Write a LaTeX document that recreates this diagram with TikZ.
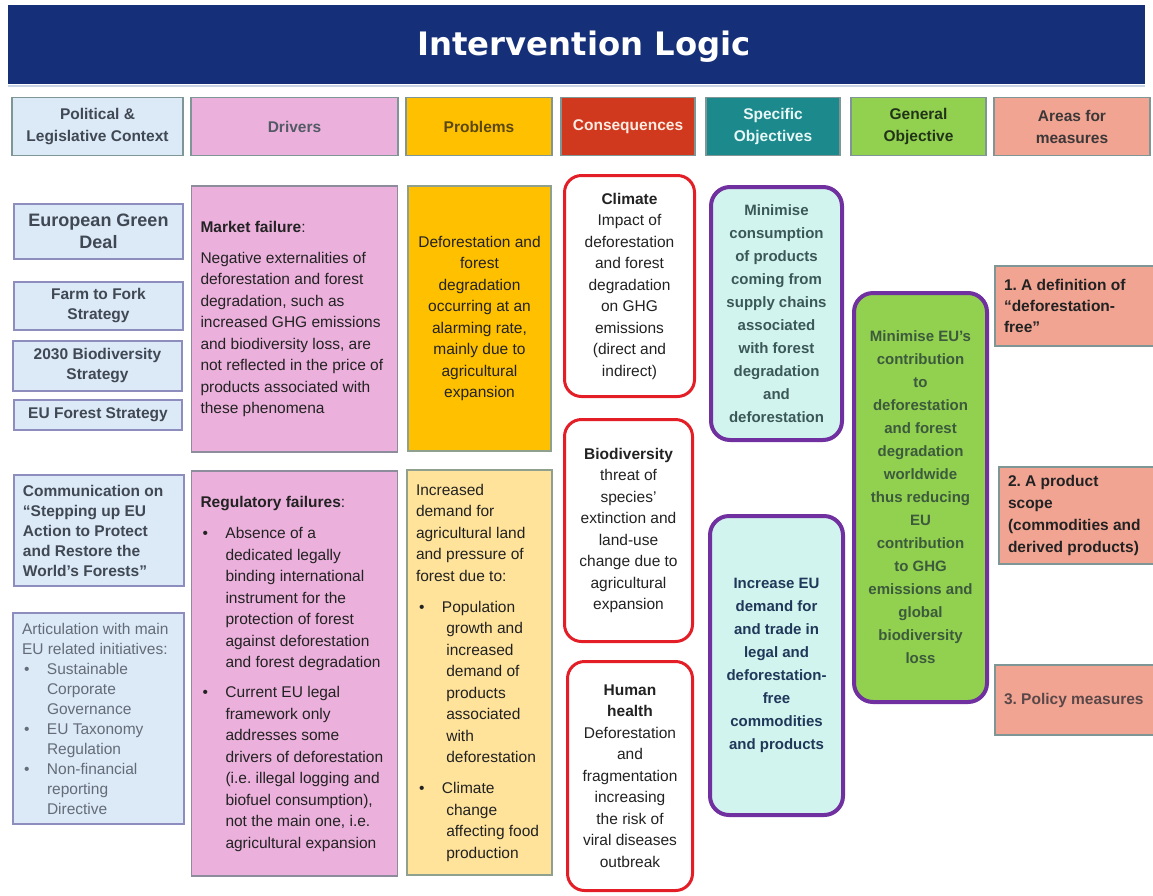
\documentclass[tikz,border=0pt]{standalone}
\usepackage{fontspec}
\setmainfont{Liberation Sans}
\newfontfamily\titlefont{DejaVu Sans}
\frenchspacing
\definecolor{navy}{RGB}{21,48,120}
\definecolor{barline}{RGB}{200,212,228}
\definecolor{hdrline}{RGB}{127,150,150}
\definecolor{polfill}{RGB}{220,233,247}
\definecolor{polline}{RGB}{142,142,190}
\definecolor{pinkfill}{RGB}{235,177,220}
\definecolor{pinkline}{RGB}{140,140,156}
\definecolor{orangefill}{RGB}{255,192,0}
\definecolor{yellowfill}{RGB}{255,227,154}
\definecolor{yline}{RGB}{143,160,143}
\definecolor{consfill}{RGB}{208,57,30}
\definecolor{tealfill}{RGB}{28,138,140}
\definecolor{greenfill}{RGB}{146,208,80}
\definecolor{salmon}{RGB}{242,164,147}
\definecolor{mint}{RGB}{210,244,238}
\definecolor{purp}{RGB}{112,48,160}
\definecolor{redline}{RGB}{228,30,38}
\definecolor{dtext}{RGB}{64,72,84}
\definecolor{ltext}{RGB}{100,108,120}
\definecolor{btext}{RGB}{34,34,34}
\definecolor{s1text}{RGB}{59,88,88}
\definecolor{s2text}{RGB}{31,56,90}
\definecolor{gtext}{RGB}{60,90,60}
\newcommand{\myfs}{\fontsize{15.5}{21.5}\selectfont}
\newcommand{\hdfs}{\fontsize{15.5}{22}\selectfont}
\newcommand{\lcfs}{\fontsize{15.5}{20}\selectfont}
\newcommand{\obfs}{\fontsize{15}{23}\selectfont}
\newcommand{\bul}{\hspace*{2pt}\makebox[23pt][l]{•}}
\newcommand{\ind}{\hspace*{25pt}}
\begin{document}
\begin{tikzpicture}[x=1pt,y=-1pt,
  every node/.style={inner sep=0pt, outer sep=0pt},
  hdr/.style={draw=hdrline, line width=1.2pt, minimum height=58, align=center, font=\bfseries\hdfs},
  polbox/.style={draw=polline, fill=polfill, line width=1.2pt, align=center, font=\bfseries\lcfs, text=dtext},
  drvbox/.style={draw=pinkline, fill=pinkfill, line width=1.2pt, minimum width=206},
  probbox/.style={draw=yline, line width=1.2pt, align=center, font=\myfs, text=btext},
  consbox/.style={draw=redline, fill=white, line width=3pt, rounded corners=17pt, align=center, font=\myfs, text=btext},
  objbox/.style={draw=purp, line width=4pt, rounded corners=19pt, align=center, font=\bfseries\obfs},
  areabox/.style={draw=hdrline, fill=salmon, line width=1.2pt},
  txtl/.style={align=left, anchor=west, font=\myfs, text=btext}
]
\useasboundingbox (0,0) rectangle (1153,895);
% title
\node[fill=navy, minimum width=1137, minimum height=79] (bar) at (576.5,44.5) {};
\draw[barline, line width=2pt] ([yshift=-1.5]bar.south west) -- ([yshift=-1.5]bar.south east);
\node[font=\titlefont\bfseries\fontsize{32.3}{36}\selectfont, text=white] (ttl) at (584,47) {Intervention Logic};
% headers
\node[hdr, fill=polfill, minimum width=171, text=dtext] (hpol) at (97.5,126.5) {Political \&\\Legislative Context};
\node[hdr, fill=pinkfill, minimum width=207, text=dtext!90] (hdrv) at (294.5,126.5) {Drivers};
\node[hdr, fill=orangefill, minimum width=146, text={rgb,255:red,90;green,72;blue,16}] (hprob) at (479,126.5) {Problems};
\node[hdr, fill=consfill, minimum width=134, text={rgb,255:red,252;green,236;blue,226}] (hcons) at (628,126.5) {Consequences};
\node[hdr, fill=tealfill, minimum width=134, text={rgb,255:red,232;green,246;blue,246}] (hspec) at (773,126.5) {Specific\\Objectives};
\node[hdr, fill=greenfill, minimum width=135, text={rgb,255:red,34;green,52;blue,24}] (hgen) at (918.5,126.5) {General\\Objective};
\node[hdr, fill=salmon, minimum width=156, text={rgb,255:red,60;green,56;blue,56}] (hareas) at (1072,126.5) {Areas for\\measures};
% political column
\node[polbox, minimum width=169, minimum height=55, font=\bfseries\fontsize{18}{22}\selectfont] (egd) at (98.5,231.5) {European Green\\Deal};
\node[polbox, minimum width=169, minimum height=48] (f2f) at (98.5,306) {Farm to Fork\\Strategy};
\node[polbox, minimum width=169, minimum height=50] (bds) at (97.5,366) {2030 Biodiversity\\Strategy};
\node[polbox, minimum width=168, minimum height=30] (efs) at (98,415) {EU Forest Strategy};
\node[polbox, minimum width=170, minimum height=111] (comm) at (99,530.5) {};
\node[txtl, font=\bfseries\lcfs, text=dtext] (commt) at ([xshift=9]comm.west) {Communication on\\“Stepping up EU\\Action to Protect\\and Restore the\\World’s Forests”};
\node[polbox, minimum width=171, minimum height=211] (artic) at (98.5,718.5) {};
\node[txtl, font=\lcfs, text=ltext] (artict) at ([xshift=9]artic.west) {Articulation with main\\EU related initiatives:\\\bul Sustainable\\\ind Corporate\\\ind Governance\\\bul EU Taxonomy\\\ind Regulation\\\bul Non-financial\\\ind reporting\\\ind Directive};
% drivers
\node[drvbox, minimum height=266] (mf) at (294.5,319) {};
\node[txtl] (mft) at ([xshift=9]mf.west) {\textbf{Market failure}:\\[9pt]Negative externalities of\\deforestation and forest\\degradation, such as\\increased GHG emissions\\and biodiversity loss, are\\not reflected in the price of\\products associated with\\these phenomena};
\node[drvbox, minimum height=405] (rf) at (294.5,673.5) {};
\node[txtl] (rft) at ([xshift=9]rf.west) {\textbf{Regulatory failures}:\\[10pt]\bul Absence of a\\\ind dedicated legally\\\ind binding international\\\ind instrument for the\\\ind protection of forest\\\ind against deforestation\\\ind and forest degradation\\[8.5pt]\bul Current EU legal\\\ind framework only\\\ind addresses some\\\ind drivers of deforestation\\\ind (i.e. illegal logging and\\\ind biofuel consumption),\\\ind not the main one, i.e.\\\ind agricultural expansion};
% problems
\node[probbox, fill=orangefill, minimum width=143, minimum height=265] (p1) at (479.5,318.5) {Deforestation and\\forest\\degradation\\occurring at an\\alarming rate,\\mainly due to\\agricultural\\expansion};
\node[probbox, fill=yellowfill, minimum width=145, minimum height=405] (p2) at (479.5,672.5) {};
\node[txtl] (p2t) at ([xshift=9]p2.west) {Increased\\demand for\\agricultural land\\and pressure of\\forest due to:\\[9.5pt]\hspace*{1pt}\bul Population\\\ind\hspace*{1pt} growth and\\\ind\hspace*{1pt} increased\\\ind\hspace*{1pt} demand of\\\ind\hspace*{1pt} products\\\ind\hspace*{1pt} associated\\\ind\hspace*{1pt} with\\\ind\hspace*{1pt} deforestation\\[9.5pt]\hspace*{1pt}\bul Climate\\\ind\hspace*{1pt} change\\\ind\hspace*{1pt} affecting food\\\ind\hspace*{1pt} production};
% consequences
\node[consbox, minimum width=130, minimum height=221] (c1) at (629.5,286) {\textbf{Climate}\\Impact of\\deforestation\\and forest\\degradation\\on GHG\\emissions\\(direct and\\indirect)};
\node[consbox, minimum width=128, minimum height=222] (c2) at (628.5,530.5) {\textbf{Biodiversity}\\threat of\\species’\\extinction and\\land-use\\change due to\\agricultural\\expansion};
\node[consbox, minimum width=125, minimum height=229] (c3) at (630,776) {\textbf{Human}\\\textbf{health}\\Deforestation\\and\\fragmentation\\increasing\\the risk of\\viral diseases\\outbreak};
% specific objectives
\node[objbox, fill=mint, minimum width=131, minimum height=253, text=s1text] (s1) at (776.5,313.5) {Minimise\\consumption\\of products\\coming from\\supply chains\\associated\\with forest\\degradation\\and\\deforestation};
\node[objbox, fill=mint, minimum width=133, minimum height=299, text=s2text] (s2) at (776.5,665.5) {Increase EU\\demand for\\and trade in\\legal and\\deforestation-\\free\\commodities\\and products};
% general objective
\node[objbox, fill=greenfill, minimum width=133, minimum height=409, text=gtext] (g) at (920.5,497.5) {Minimise EU’s\\contribution\\to\\deforestation\\and forest\\degradation\\worldwide\\thus reducing\\EU\\contribution\\to GHG\\emissions and\\global\\biodiversity\\loss};
% areas for measures
\node[areabox, minimum width=166, minimum height=80] (a1) at (1078,306) {};
\node[txtl, font=\bfseries\fontsize{15.5}{21}\selectfont, text=btext] (a1t) at ([xshift=9]a1.west) {1. A definition of\\“deforestation-\\free”};
\node[areabox, minimum width=162, minimum height=97] (a2) at (1080,515.5) {};
\node[txtl, font=\bfseries\fontsize{15.5}{21.7}\selectfont, text=btext] (a2t) at ([xshift=9]a2.west) {2. A product\\scope\\(commodities and\\derived products)};
\node[areabox, minimum width=166, minimum height=70] (a3) at (1078,700) {};
\node[txtl, font=\bfseries\myfs, text={rgb,255:red,90;green,72;blue,72}] (a3t) at ([xshift=9]a3.west) {3. Policy measures};
\end{tikzpicture}
\end{document}
